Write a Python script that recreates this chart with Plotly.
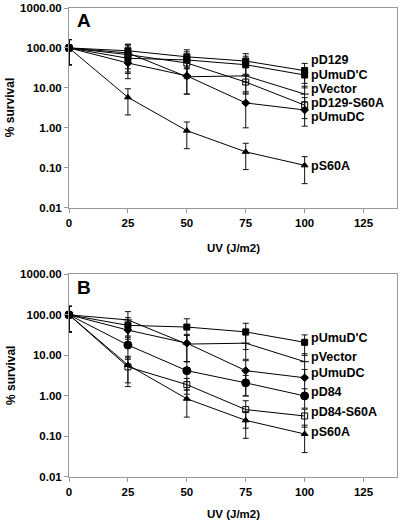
import plotly.graph_objects as go
from plotly.subplots import make_subplots

uv = [0, 25, 50, 75, 100]

# Panel A series
pD129 = [100, 85, 60, 47, 27]
pD129_err = [62, 40, 30, 25, 14]
pUmuDpC = [100, 55, 50, 38, 21]
pUmuDpC_err = [62, 30, 30, 24, 11]
pVector = [100, 75, 19, 20, 7]
pVector_err = [62, 45, 12, 12, 4]
pD129_S60A = [100, 68, 42, 14, 3.7]
pD129_S60A_err = [62, 45, 25, 7, 2]
pUmuDC = [100, 42, 20, 4.2, 2.8]
pUmuDC_err = [62, 25, 13, 3.2, 1.7]
pS60A = [100, 5.8, 0.85, 0.25, 0.115]
pS60A_err = [62, 3.7, 0.55, 0.16, 0.075]

# Panel B extra series
pD84 = [100, 18, 4.2, 2.1, 1.0]
pD84_err = [62, 10, 2.8, 1.1, 0.5]
pD84_S60A = [100, 5.2, 1.9, 0.46, 0.32]
pD84_S60A_err = [62, 3.5, 0.8, 0.3, 0.15]

ytick_vals = [0.01, 0.1, 1, 10, 100, 1000]
ytick_text = ["0.01", "0.10", "1.00", "10.00", "100.00", "1000.00"]
xtick_vals = [0, 25, 50, 75, 100, 125]

FONT = "Liberation Sans, Arial, sans-serif"

styles = {
    "pD129": dict(symbol="square", size=6),
    "pUmuD'C": dict(symbol="square", size=6),
    "pVector": dict(symbol="line-ew", size=6),
    "pD129-S60A": dict(symbol="square-open", size=6),
    "pUmuDC": dict(symbol="diamond", size=6),
    "pS60A": dict(symbol="triangle-up", size=6),
    "pD84": dict(symbol="circle", size=8),
    "pD84-S60A": dict(symbol="square-open", size=6),
}

panel_a = [
    ("pD129", pD129, pD129_err, 1.70),
    ("pUmuD'C", pUmuDpC, pUmuDpC_err, 1.33),
    ("pVector", pVector, pVector_err, 0.97),
    ("pD129-S60A", pD129_S60A, pD129_S60A_err, 0.62),
    ("pUmuDC", pUmuDC, pUmuDC_err, 0.27),
    ("pS60A", pS60A, pS60A_err, -0.96),
]
panel_b = [
    ("pUmuD'C", pUmuDpC, pUmuDpC_err, 1.42),
    ("pVector", pVector, pVector_err, 0.96),
    ("pUmuDC", pUmuDC, pUmuDC_err, 0.575),
    ("pD84", pD84, pD84_err, 0.09),
    ("pD84-S60A", pD84_S60A, pD84_S60A_err, -0.40),
    ("pS60A", pS60A, pS60A_err, -0.88),
]

fig = make_subplots(rows=2, cols=1)

for row, panel in ((1, panel_a), (2, panel_b)):
    for name, vals, err, ly in panel:
        st = styles[name]
        fig.add_trace(go.Scatter(
            x=uv, y=vals, mode="lines+markers", name=name,
            line=dict(color="#000", width=1),
            marker=dict(symbol=st["symbol"], size=st["size"], color="#000",
                        line=dict(color="#000", width=1)),
            error_y=dict(type="data", array=err, color="#111", thickness=1, width=3),
            cliponaxis=False, showlegend=False,
        ), row=row, col=1)
        xr = "x" if row == 1 else "x2"
        yr = "y" if row == 1 else "y2"
        fig.add_annotation(x=102, y=ly, xref=xr, yref=yr, text=name, showarrow=False,
                           xanchor="left", yanchor="middle",
                           font=dict(family=FONT, size=12.5, color="#000", weight="bold"))

axis_common = dict(showline=True, linecolor="#999", linewidth=1, mirror=True,
                   showgrid=False, zeroline=False, ticks="outside", ticklen=4,
                   tickcolor="#999",
                   tickfont=dict(family=FONT, size=11.5, color="#000", weight="bold"))

for r in (1, 2):
    fig.update_xaxes(range=[0, 139.2], tickvals=xtick_vals, row=r, col=1, **axis_common)
    fig.update_yaxes(type="log", range=[-2, 3], tickvals=ytick_vals, ticktext=ytick_text,
                     row=r, col=1, **axis_common)

fig.update_layout(
    width=400, height=522,
    margin=dict(l=69, r=2, t=5, b=45),
    paper_bgcolor="white", plot_bgcolor="white",
    xaxis=dict(domain=[0, 1]), xaxis2=dict(domain=[0, 1]),
    yaxis=dict(domain=[0.5742, 1]), yaxis2=dict(domain=[0, 0.4322]),
)

for lab, xr, yr, ty in (("A", "x domain", "y domain", -0.2), ("B", "x2 domain", "y2 domain", -0.185)):
    fig.add_annotation(x=0.046, y=0.935, xref=xr, yref=yr, text=lab, showarrow=False,
                       xanchor="center", yanchor="middle",
                       font=dict(family=FONT, size=19, color="#000", weight="bold"))
    fig.add_annotation(x=0.5, y=ty, xref=xr, yref=yr, text="UV (J/m2)", showarrow=False,
                       xanchor="center", yanchor="middle",
                       font=dict(family=FONT, size=11.5, color="#000", weight="bold"))
    fig.add_annotation(x=-0.179, y=0.5, xref="paper", yref=yr, text="% survival",
                       showarrow=False, textangle=-90, xanchor="center", yanchor="middle",
                       font=dict(family=FONT, size=12, color="#000", weight="bold"))

fig.write_html("out.html", config={"displayModeBar": False},
               post_script="document.body.style.margin='0px';document.body.style.overflow='hidden';")
